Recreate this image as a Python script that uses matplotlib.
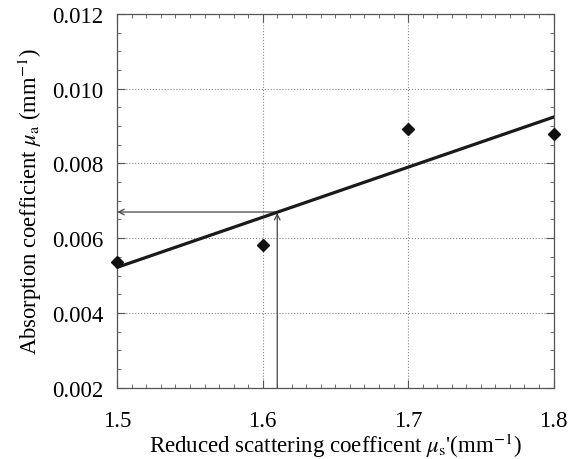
import numpy as np
import matplotlib
matplotlib.use("Agg")
import matplotlib.pyplot as plt
from matplotlib.ticker import MultipleLocator, FormatStrFormatter

# Data
mus = [1.5, 1.6, 1.7, 1.8]
mua = [0.00537, 0.00582, 0.00893, 0.00880]
xticks = [1.5, 1.6, 1.7, 1.8]
yticks = [0.002, 0.004, 0.006, 0.008, 0.010, 0.012]
arrow_x = 1.61
arrow_y = 0.0067

plt.rcParams['font.family'] = ['Liberation Serif', 'DejaVu Serif']
plt.rcParams['mathtext.fontset'] = 'stix'

fig = plt.figure(figsize=(5.73, 4.60), dpi=100)
ax = fig.add_axes([0.2047, 0.1552, 0.7613, 0.8122])

coef = np.polyfit(mus, mua, 1)
xl = np.array([1.5, 1.8])
ax.plot(xl, np.polyval(coef, xl), color='#1a1a1a', lw=2.3, zorder=3)
ax.plot(mus, mua, 'D', color='#111111', ms=6.5, zorder=4, clip_on=False)

fit_at = np.polyval(coef, arrow_x)
ax.annotate('', xy=(1.5, arrow_y), xytext=(arrow_x, arrow_y),
            arrowprops=dict(arrowstyle='->', color='#444444', lw=0.9,
                            shrinkA=0, shrinkB=0), zorder=2)
ax.annotate('', xy=(arrow_x, fit_at - 0.00002), xytext=(arrow_x, 0.002),
            arrowprops=dict(arrowstyle='->', color='#444444', lw=0.9,
                            shrinkA=0, shrinkB=0), zorder=2)

ax.set_xlim(1.5, 1.8)
ax.set_ylim(0.002, 0.012)
ax.set_xticks(xticks)
ax.set_yticks(yticks)
ax.xaxis.set_minor_locator(MultipleLocator(0.01))
ax.yaxis.set_minor_locator(MultipleLocator(0.0005))
ax.yaxis.set_major_formatter(FormatStrFormatter('%.3f'))
ax.xaxis.set_major_formatter(FormatStrFormatter('%.1f'))
ax.tick_params(which='both', direction='in', top=True, right=True,
               color='#555555', labelsize=16.5)
ax.tick_params(which='major', length=6, width=0.8)
ax.tick_params(axis='y', which='major', pad=10)
ax.tick_params(axis='x', which='major', pad=16)
ax.tick_params(which='minor', length=3, width=0.6)
ax.grid(True, which='major', linestyle=':', color='#888888', lw=0.8)
for s in ax.spines.values():
    s.set_color('#555555')
    s.set_linewidth(0.9)

ax.set_xlabel(r"Reduced scattering coefficent $\mu_{\rm s}$'(mm$^{-1}$)",
              fontsize=16.5, labelpad=0)
ax.set_ylabel(r"Absorption coefficient $\mu_{\rm a}$ (mm$^{-1}$)",
              fontsize=16.3, labelpad=6)

fig.savefig('out.png', dpi=100)
